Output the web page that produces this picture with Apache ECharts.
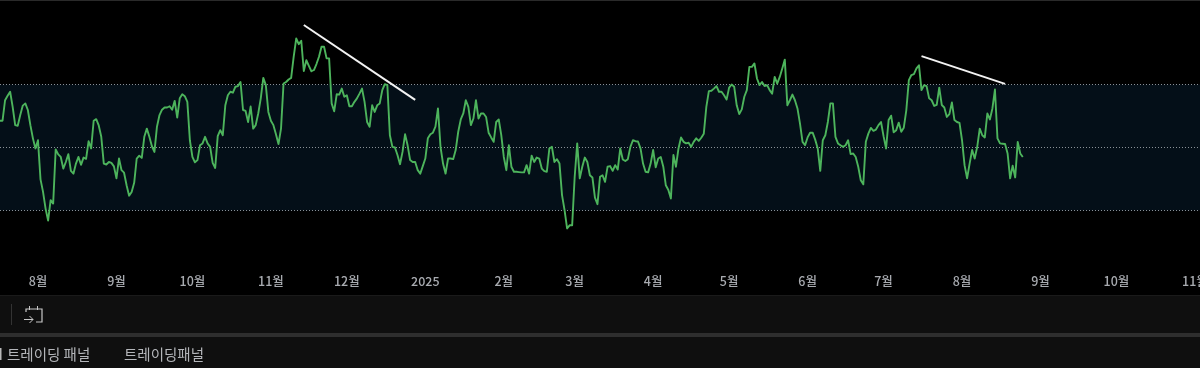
<!DOCTYPE html>
<html><head><meta charset="utf-8">
<style>html,body{margin:0;padding:0;background:#000}#c{width:1200px;height:368px}</style>
<script src="https://cdn.jsdelivr.net/npm/echarts@6/dist/echarts.min.js"></script>
</head><body><div id="c"></div>
<script>
const firstDay = '2024-07-17';
const axisEndDay = 474;
const monthTicks = ['2024-08-01','2024-09-01','2024-10-01','2024-11-01','2024-12-01','2025-01-01','2025-02-01','2025-03-01','2025-04-01','2025-05-01','2025-06-01','2025-07-01','2025-08-01','2025-09-01','2025-10-01','2025-11-01'];
const monthLabels = ['8월','9월','10월','11월','12월','2025','2월','3월','4월','5월','6월','7월','8월','9월','10월','11월'];
const bandLevels = [70, 50, 30];
const rsi = [
58.5,58.5,65,66.4,67.7,62.9,57.1,56.9,60.3,63.3,64,61.9,57.1,52.9,49.7,52.3,39.9,35.9,30.6,26.8,33.3,32.2,49.4,47.8,47,43.3,45.4,47.9,42.6,41.7,44.9,47,44.5,46.8,46.4,52,49.7,58.5,59,57,53.4,44.9,44.6,45.4,45.1,44,40.2,46.5,42.8,42,38,34.7,35.9,38.8,46.5,47.4,46.7,53.4,56,53.4,50.4,48.6,56.6,60.3,62,62.7,62.7,63.1,62,64.8,59.5,65.6,
66.9,66.3,64.5,52.3,47,45.3,46,50.7,51.3,53.4,51.3,50.2,45.1,43.5,53.6,55.5,53.9,63.4,66.6,67.7,67.4,69.3,69.5,70.8,61.9,61.6,58.1,63,56,57.1,60.8,65.6,72.1,69.8,61.3,58.5,57.1,54.2,51.1,56,70.3,70.8,71.6,72.1,78.8,84.6,82.8,83.9,74.3,77.7,75.9,74.2,74.6,76.5,78.8,82,82,78.3,78.3,64,61.5,66.9,66.8,68.7,66.1,66.6,63.1,
63.1,64.5,65.6,67.1,68.7,64.5,58.1,56.6,63.4,61.3,63.4,64,68.2,70.1,69.8,53.9,50.2,50,47.6,44.7,48.6,54.2,50.7,46,45.4,45.4,42.8,41.7,44.1,46.5,52.9,54.2,54.7,56.6,62.4,50.2,44.9,41.7,46.5,46.5,46.3,49.2,55,58.9,60.8,65,62.9,57.1,59.2,65,59.2,60.8,60.8,59.7,54.7,53.2,51.8,58.1,58.9,53.9,47,42.8,50.7,
43.9,42.3,42.3,42.2,42.1,42.1,44.4,41.7,47.4,45.4,46.8,46.5,43.3,42.5,42.3,49.7,50.2,45.4,46.3,44.9,34.9,30.1,24.3,25.3,25.3,40.7,51.3,40.2,43.9,46.8,45.4,41.2,40.5,34.1,32,40.7,41.2,39.1,43.9,44.1,42.6,44.4,43,49.7,46.2,45.7,46.3,50.2,52.3,52,51.9,49.7,44.9,42.3,42.1,44.9,49.2,43.7,46.5,47,43.9,38,36.5,33.8,47.6,43.9,49.7,53.2,51.8,
51.3,51.5,50.2,51.8,52.9,52.1,53.1,54.4,62.9,67.9,68,68.7,69.5,67.7,67.7,66.6,65.2,69,70,69.3,63.4,60.6,62.1,66.1,68.2,75.6,75.6,76.7,71.9,69.8,70.8,69.5,69.8,68.2,67.1,72.4,70.3,72.4,75.1,77.9,63.4,65,66.8,65,62.4,57.6,51.8,50.7,53.2,54.7,54.7,52.5,49.7,42.6,52.3,53.9,58.1,64,64,53.4,51.3,50.7,50.2,50.7,52.3,47.9,48.1,47,43.9,39.6,
38.3,51.8,54.4,56.2,55.3,55.7,57.1,58.1,53.6,49.7,58.7,60.1,54.8,55.5,57.9,55,56.3,61.9,71.4,73,73.3,75.1,76.1,68.2,69.8,69.5,65.6,65,63.2,63.5,69,63.5,62.7,59.7,60.6,64.3,58.7,58.1,57.8,52.3,44.4,40.2,44.9,49.2,46.5,50.2,56,53.9,53.2,60.8,58.9,62.4,68.4,52.9,51.3,51.2,51.1,48.1,40.2,44.2,40.5,51.8,48.1,47
];
const trendDaysA = [120, 164];
const trendValuesA = [88.9, 65.1];
const trendDaysB = [364, 397];
const trendValuesB = [79, 70.2];

const DAY = 86400000;
const t0 = Date.parse(firstDay + 'T00:00:00Z');
const tickDays = monthTicks.map(s => Math.round((Date.parse(s + 'T00:00:00Z') - t0) / DAY));
const pair = (days, vals) => days.map((d, i) => [d, vals[i]]);
const hl = {color:'#c8c8c8', width:1.2};
const uiText = '#b4b6ba';

const chart = echarts.init(document.getElementById('c'), null, {renderer:'canvas'});
chart.setOption({
  animation:false, backgroundColor:'#000',
  grid:{left:0, right:0, top:21.5, height:252, containLabel:false, outerBoundsMode:'none'},
  xAxis:{type:'value', min:0, max:axisEndDay,
    axisLine:{show:false}, axisTick:{show:false}, splitLine:{show:false},
    axisLabel:{customValues:tickDays, margin:1, color:'#a8abb0', fontSize:12.5, fontWeight:500, hideOverlap:false,
      fontFamily:'"Noto Sans CJK KR","Noto Sans",sans-serif',
      formatter:v => monthLabels[tickDays.indexOf(v)]}},
  yAxis:{type:'value', min:10, max:90, show:false, splitLine:{show:false}},
  series:[
    {type:'line', name:'RSI', data:rsi.map((v,i)=>[i,v]), showSymbol:false, symbol:'none',
     lineStyle:{color:'#4db45c', width:1.9, join:'round'}, z:5, silent:true,
     markArea:{silent:true, itemStyle:{color:'#040f18'}, data:[[{yAxis:bandLevels[0]},{yAxis:bandLevels[2]}]]},
     markLine:{silent:true, symbol:'none', label:{show:false},
       lineStyle:{color:'#8a9197', type:[1,2], width:1},
       data:bandLevels.map(v=>({yAxis:v}))}},
    {type:'line', name:'trendA', data:pair(trendDaysA,trendValuesA), symbol:'none', silent:true, z:6,
     lineStyle:{color:'#f2f2f2', width:2}},
    {type:'line', name:'trendB', data:pair(trendDaysB,trendValuesB), symbol:'none', silent:true, z:6,
     lineStyle:{color:'#f2f2f2', width:2}}
  ],
  graphic:[
    {type:'rect', shape:{x:0,y:0,width:1200,height:1}, style:{fill:'#2a2a2a'}, silent:true},
    {type:'rect', shape:{x:0,y:295,width:1200,height:73}, style:{fill:'#0f0f0f'}, silent:true},
    {type:'rect', shape:{x:0,y:295,width:1200,height:1}, style:{fill:'#1a1a1a'}, silent:true},
    {type:'rect', shape:{x:0,y:333,width:1200,height:4}, style:{fill:'#2e2e2e'}, silent:true},
    {type:'rect', shape:{x:11,y:304,width:1,height:21}, style:{fill:'#333333'}, silent:true},
    {type:'polyline', shape:{points:[[26,312],[26,309],[42,309],[42,322],[36,322]]}, style:{stroke:hl.color,lineWidth:hl.width,fill:null}, silent:true},
    {type:'polyline', shape:{points:[[29.5,306],[29.5,310]]}, style:{stroke:hl.color,lineWidth:1,fill:null}, silent:true},
    {type:'polyline', shape:{points:[[37.5,306],[37.5,310]]}, style:{stroke:hl.color,lineWidth:1,fill:null}, silent:true},
    {type:'polyline', shape:{points:[[24,319.5],[33,319.5]]}, style:{stroke:hl.color,lineWidth:1,fill:null}, silent:true},
    {type:'polyline', shape:{points:[[29.5,316],[33,319.5],[29.5,323]]}, style:{stroke:hl.color,lineWidth:1,fill:null}, silent:true},
    {type:'rect', shape:{x:0,y:348,width:1.5,height:12}, style:{fill:'#b8b8b8'}, silent:true},
    {type:'text', x:7, y:354, style:{text:'트레이딩 패널', fill:uiText, fontSize:14.5, fontFamily:'"Noto Sans CJK KR",sans-serif', verticalAlign:'middle'}, silent:true},
    {type:'text', x:124, y:354, style:{text:'트레이딩패널', fill:uiText, fontSize:14.5, fontFamily:'"Noto Sans CJK KR",sans-serif', verticalAlign:'middle'}, silent:true}
  ]
});
</script></body></html>
